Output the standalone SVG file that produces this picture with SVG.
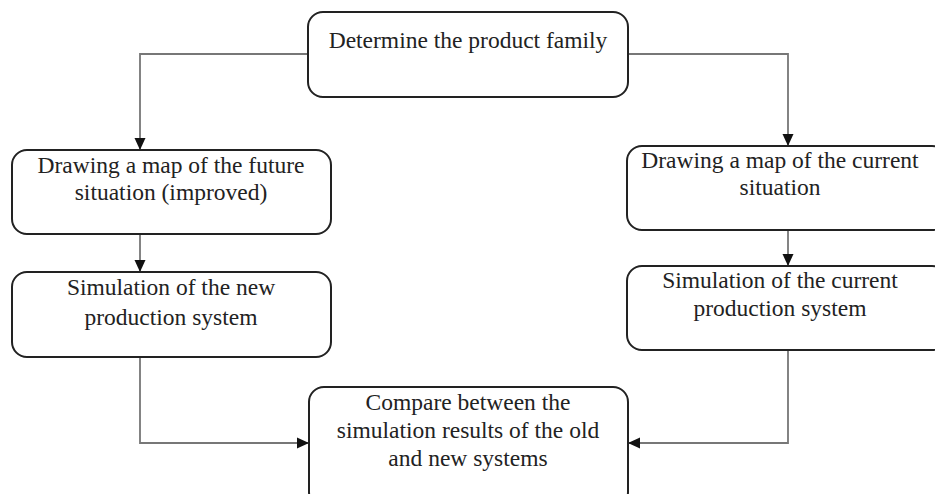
<svg xmlns="http://www.w3.org/2000/svg" width="935" height="494" viewBox="0 0 935 494">
<style>
.box{fill:#fff;stroke:#222;stroke-width:2}
.t{font-family:"Liberation Serif","Times New Roman",serif;font-size:23.5px;fill:#222;text-anchor:middle}
.c{fill:none;stroke:#777;stroke-width:1.8}
</style>
<defs>
<marker id="ah" viewBox="0 0 12 12" refX="12" refY="6" markerWidth="12" markerHeight="12" markerUnits="userSpaceOnUse" orient="auto">
<path d="M0,0.5 L12,6 L0,11.5 z" fill="#111"/>
</marker>
</defs>
<rect width="935" height="494" fill="#fff"/>
<g id="connectors">
<path class="c" d="M308,54 H140 V150" marker-end="url(#ah)"/>
<path class="c" d="M628,54 H788 V146" marker-end="url(#ah)"/>
<path class="c" d="M140,234 V272" marker-end="url(#ah)"/>
<path class="c" d="M788,230 V266" marker-end="url(#ah)"/>
<path class="c" d="M140,357 V443 H309" marker-end="url(#ah)"/>
<path class="c" d="M788,350 V443 H628" marker-end="url(#ah)"/>
</g>
<g id="n1">
<rect class="box" x="308" y="12" width="320" height="85" rx="15"/>
<text class="t" x="468" y="48">Determine the product family</text>
</g>
<g id="n2">
<rect class="box" x="12" y="150" width="319" height="84" rx="15"/>
<text class="t" x="171" y="173">Drawing a map of the future</text>
<text class="t" x="171" y="200">situation (improved)</text>
</g>
<g id="n3">
<rect class="box" x="12" y="272" width="319" height="85" rx="15"/>
<text class="t" x="171" y="295">Simulation of the new</text>
<text class="t" x="171" y="325">production system</text>
</g>
<g id="n4">
<rect class="box" x="627" y="146" width="320" height="84" rx="15"/>
<text class="t" x="780" y="168">Drawing a map of the current</text>
<text class="t" x="780" y="195">situation</text>
</g>
<g id="n5">
<rect class="box" x="627" y="266" width="320" height="84" rx="15"/>
<text class="t" x="780" y="288">Simulation of the current</text>
<text class="t" x="780" y="316">production system</text>
</g>
<g id="n6">
<rect class="box" x="309" y="387" width="319" height="120" rx="15"/>
<text class="t" x="468" y="410">Compare between the</text>
<text class="t" x="468" y="438">simulation results of the old</text>
<text class="t" x="468" y="466">and new systems</text>
</g>
</svg>
